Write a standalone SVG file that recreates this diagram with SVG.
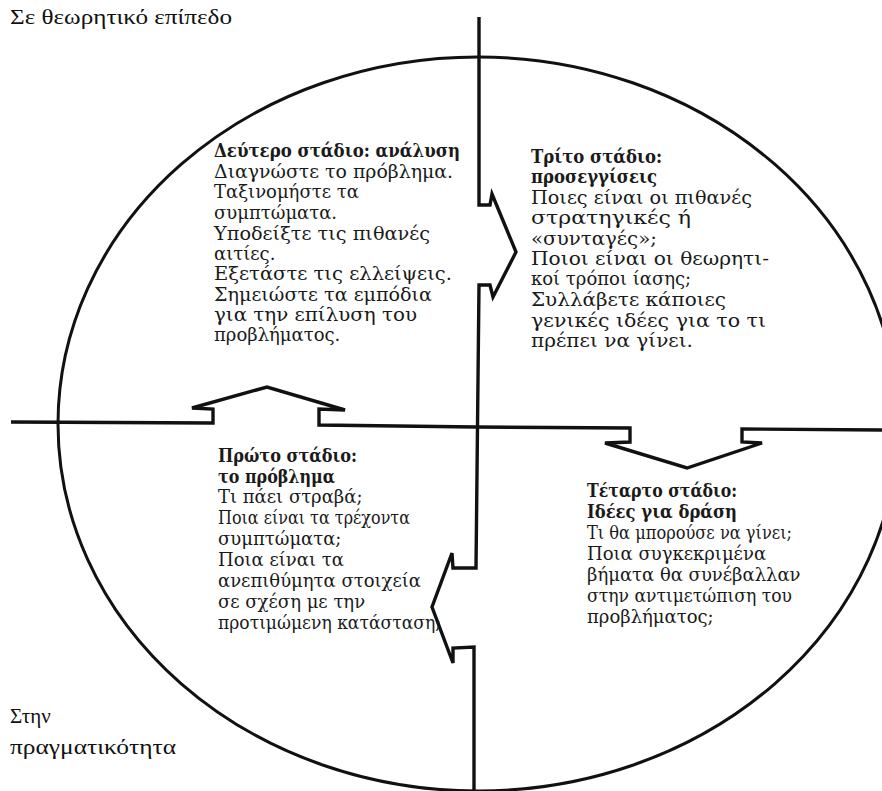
<svg xmlns="http://www.w3.org/2000/svg" width="882" height="791" viewBox="0 0 882 791">
<style>
.t{font-family:"DejaVu Serif","Liberation Serif",serif;font-size:18px;fill:#1a1a1a}
.b{font-weight:bold}
.lbl{font-family:"Liberation Serif","DejaVu Serif",serif;font-size:21px;fill:#111}
.ln{fill:none;stroke:#111;stroke-width:3.4;stroke-linejoin:miter;stroke-linecap:butt}
</style>
<rect width="882" height="791" fill="#fff"/>
<ellipse cx="478" cy="424" rx="420" ry="367" fill="none" stroke="#111" stroke-width="3"/>
<g id="connectors">
<path class="ln" d="M479,17 L479,205 L490,205 L492,194 L516,252 L493,297 L490,285 L479,285 L476,568 L453,568 L452,553 L432,607 L453,663 L453,648 L474,647 L474,791"/>
<path class="ln" d="M11,422 L213,423 L213,409 L192,408 L267,387 L345,410 L319,409 L319,425 L476,427 L630,428 L630,442 L605,443 L687,468 L762,443 L742,442 L742,429 L882,430"/>
</g>
<g id="label-theory"><text class="lbl" x="10" y="24" textLength="222" lengthAdjust="spacingAndGlyphs">Σε θεωρητικό επίπεδο</text></g>
<g id="label-reality"><text class="lbl" x="10" y="723">Στην</text><text class="lbl" x="10" y="754" textLength="166" lengthAdjust="spacingAndGlyphs">πραγματικότητα</text></g>
<g id="stage2">
<text class="t b" x="214" y="157" textLength="246" lengthAdjust="spacingAndGlyphs">Δεύτερο στάδιο: ανάλυση</text>
<text class="t" x="214" y="178" textLength="239" lengthAdjust="spacingAndGlyphs">Διαγνώστε το πρόβλημα.</text>
<text class="t" x="214" y="198">Ταξινομήστε τα</text>
<text class="t" x="214" y="219">συμπτώματα.</text>
<text class="t" x="214" y="240" textLength="216" lengthAdjust="spacingAndGlyphs">Υποδείξτε τις πιθανές</text>
<text class="t" x="214" y="260">αιτίες.</text>
<text class="t" x="214" y="280" textLength="238" lengthAdjust="spacingAndGlyphs">Εξετάστε τις ελλείψεις.</text>
<text class="t" x="214" y="301" textLength="218" lengthAdjust="spacingAndGlyphs">Σημειώστε τα εμπόδια</text>
<text class="t" x="214" y="321" textLength="203" lengthAdjust="spacingAndGlyphs">για την επίλυση του</text>
<text class="t" x="214" y="341">προβλήματος.</text>
</g>
<g id="stage3">
<text class="t b" x="531" y="163" textLength="131" lengthAdjust="spacingAndGlyphs">Τρίτο στάδιο:</text>
<text class="t b" x="531" y="183" textLength="126" lengthAdjust="spacingAndGlyphs">προσεγγίσεις</text>
<text class="t" x="531" y="204" textLength="221" lengthAdjust="spacingAndGlyphs">Ποιες είναι οι πιθανές</text>
<text class="t" x="531" y="224" textLength="160" lengthAdjust="spacingAndGlyphs">στρατηγικές ή</text>
<text class="t" x="531" y="245" textLength="126" lengthAdjust="spacingAndGlyphs">«συνταγές»;</text>
<text class="t" x="531" y="265" textLength="238" lengthAdjust="spacingAndGlyphs">Ποιοι είναι οι θεωρητι-</text>
<text class="t" x="531" y="285">κοί τρόποι ίασης;</text>
<text class="t" x="531" y="306" textLength="195" lengthAdjust="spacingAndGlyphs">Συλλάβετε κάποιες</text>
<text class="t" x="531" y="327" textLength="235" lengthAdjust="spacingAndGlyphs">γενικές ιδέες για το τι</text>
<text class="t" x="531" y="347" textLength="162" lengthAdjust="spacingAndGlyphs">πρέπει να γίνει.</text>
</g>
<g id="stage1">
<text class="t b" x="218" y="462" textLength="139" lengthAdjust="spacingAndGlyphs">Πρώτο στάδιο:</text>
<text class="t b" x="218" y="483" textLength="117" lengthAdjust="spacingAndGlyphs">το πρόβλημα</text>
<text class="t" x="218" y="503">Τι πάει στραβά;</text>
<text class="t" x="218" y="524" textLength="192" lengthAdjust="spacingAndGlyphs">Ποια είναι τα τρέχοντα</text>
<text class="t" x="218" y="545">συμπτώματα;</text>
<text class="t" x="218" y="566">Ποια είναι τα</text>
<text class="t" x="218" y="587">ανεπιθύμητα στοιχεία</text>
<text class="t" x="218" y="608">σε σχέση με την</text>
<text class="t" x="218" y="629" textLength="223" lengthAdjust="spacingAndGlyphs">προτιμώμενη κατάσταση;</text>
</g>
<g id="stage4">
<text class="t b" x="587" y="497" textLength="150" lengthAdjust="spacingAndGlyphs">Τέταρτο στάδιο:</text>
<text class="t b" x="587" y="518" textLength="150" lengthAdjust="spacingAndGlyphs">Ιδέες για δράση</text>
<text class="t" x="587" y="539" textLength="205" lengthAdjust="spacingAndGlyphs">Τι θα μπορούσε να γίνει;</text>
<text class="t" x="587" y="560">Ποια συγκεκριμένα</text>
<text class="t" x="587" y="581">βήματα θα συνέβαλλαν</text>
<text class="t" x="587" y="602" textLength="205" lengthAdjust="spacingAndGlyphs">στην αντιμετώπιση του</text>
<text class="t" x="587" y="623">προβλήματος;</text>
</g>
</svg>
